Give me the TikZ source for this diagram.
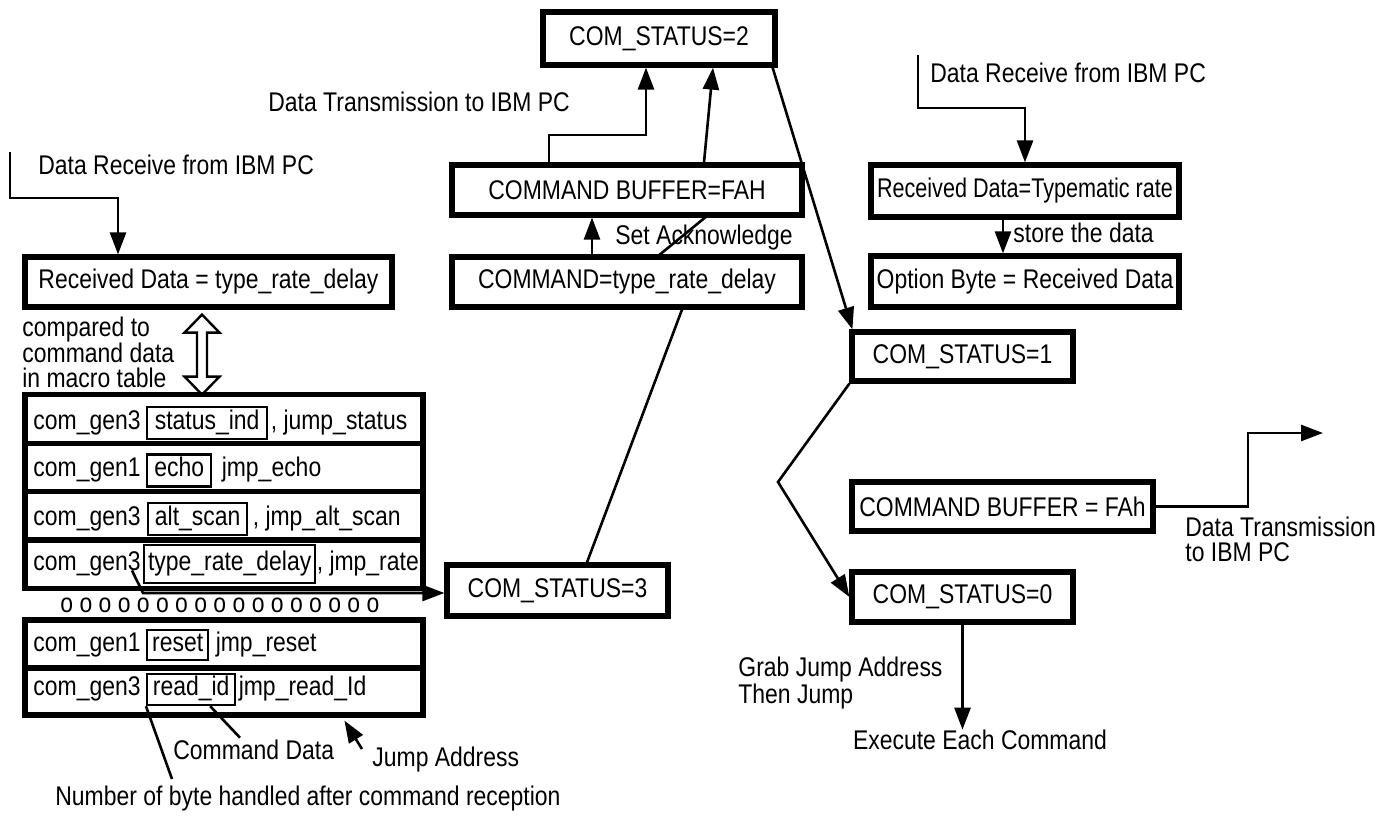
\documentclass[tikz,border=0pt]{standalone}
\usepackage{fontspec}
\setmainfont{Liberation Sans}[FakeStretch=0.85]
\newfontfamily\narrowsans{Liberation Sans}[FakeStretch=0.8]
\usepackage{tikz}
\usetikzlibrary{arrows.meta,positioning,calc,backgrounds}

\tikzset{
  blk/.style={draw,line width=2.6pt,fill=white,inner sep=0pt},
  row/.style={draw,line width=2.6pt,minimum width=199pt,inner sep=0pt},
  kw/.style={draw,line width=1.2pt,inner sep=0pt,minimum height=16pt,text height=9.5pt,text depth=3pt},
  cell/.style={inner sep=0pt,text height=9.5pt,text depth=3pt},
  lbl/.style={inner sep=0pt,anchor=west},
  flow/.style={line width=1.3pt,-{Triangle[length=11pt,width=8pt]}},
  wire/.style={line width=1.3pt}
}

\begin{document}
\begin{tikzpicture}[x=0.5pt,y=-0.5pt,font=\fontsize{13.5}{12.8}\selectfont]
        \path[use as bounding box] (0,0) rectangle (1398,817);

        % state boxes
        \node[blk,minimum width=116pt,minimum height=26.5pt] (cs2) at (659,38.5) {COM\_STATUS=2};
        \node[blk,minimum width=175pt,minimum height=25pt] (bufa) at (627,190) {COMMAND BUFFER=FAH};
        \node[blk,minimum width=175pt,minimum height=25pt] (cmd) at (627,282) {COMMAND=type\_rate\_delay};
        \node[blk,minimum width=183.5pt,minimum height=25pt] (rxl) at (208.5,282) {Received Data = type\_rate\_delay};
        \node[blk,minimum width=154pt,minimum height=26pt] (rxr) at (1025,191) {\narrowsans Received Data=Typematic rate};
        \node[blk,minimum width=154pt,minimum height=25.5pt] (opt) at (1025,281.5) {Option Byte = Received Data};
        \node[blk,minimum width=110.5pt,minimum height=24.5pt] (cs1) at (962.5,356.5) {COM\_STATUS=1};
        \node[blk,minimum width=150.5pt,minimum height=24.5pt] (bufb) at (1002.5,506.5) {COMMAND BUFFER = FAh};
        \node[blk,minimum width=110.5pt,minimum height=25pt] (cs0) at (962.5,597) {COM\_STATUS=0};
        \node[blk,minimum width=110.5pt,minimum height=25.5pt] (cs3) at (557.5,590.5) {COM\_STATUS=3};

        % macro table
        \node[row,minimum height=24.25pt] (r1) at (224,419) {};
        \node[row,minimum height=24.25pt] (r2) at (224,467.5) {};
        \node[row,minimum height=24.25pt] (r3) at (224,516) {};
        \node[row,minimum height=24.25pt] (r4) at (224,564) {};
        \node[row,minimum height=24pt] (r5) at (224,644) {};
        \node[row,minimum height=23.5pt] (r6) at (224,691.5) {};

        \node[cell,anchor=west] (g1) at (33,423) {com\_gen3};
        \node[kw,minimum width=60pt,right=2.5pt of g1] (k1) {status\_ind};
        \node[cell,right=1pt of k1] {, jump\_status};
        \node[cell,anchor=west] (g2) at (33,470.5) {com\_gen1};
        \node[kw,minimum width=32pt,right=2.5pt of g2] (k2) {echo\ };
        \node[cell,right=4.5pt of k2] {jmp\_echo};
        \node[cell,anchor=west] (g3) at (33,519) {com\_gen3};
        \node[kw,minimum width=49.5pt,right=3pt of g3] (k3) {alt\_scan\ };
        \node[cell,right=2pt of k3] {, jmp\_alt\_scan};
        \node[cell,anchor=west] (g4) at (33,564) {com\_gen3};
        \node[kw,minimum width=85.5pt,minimum height=19pt,right=1pt of g4] (k4) {type\_rate\_delay};
        \node[cell,right=0pt of k4] {, jmp\_rate};
        \node[cell,anchor=west] (g5) at (33,645) {com\_gen1};
        \node[kw,minimum width=30.5pt,minimum height=15pt,right=2.5pt of g5] (k5) {reset};
        \node[cell,right=3pt of k5] {jmp\_reset};
        \node[cell,anchor=west] (g6) at (33,689.5) {com\_gen3};
        \node[kw,minimum width=44pt,minimum height=15.5pt,right=2.5pt of g6] (k6) {read\_id};
        \node[cell,right=1pt of k6] {jmp\_read\_Id};

        % labels
        \node[lbl] (dl) at (38,165) {Data Receive from IBM PC};
        \node[lbl] (dt) at (268,102) {Data Transmission to IBM PC};
        \node[lbl] (ack) at (615,238) {Set Acknowledge};
        \node[lbl] (dr) at (930,73) {Data Receive from IBM PC};
        \node[lbl] (store) at (1013,233) {store the data};
        \node[lbl,align=left] (cmp) at (22,352.5) {compared to\\command data\\in macro table};
        \node[lbl] (dots) at (60,605) {o o o o o o o o o o o o o o o o o};
        \node[lbl] (cmdd) at (173,750) {Command Data};
        \node[lbl] (jmpa) at (372,760) {Jump Address};
        \node[lbl] (numb) at (55,799) {Number of byte handled after command reception};
        \node[lbl,align=left] (dt2) at (1185,539.5) {Data Transmission\\to IBM PC};
        \node[lbl,align=left,font=\fontsize{13.5}{13.5}\selectfont] (grab) at (738,683.5) {Grab Jump Address\\Then Jump};
        \node[inner sep=0pt] (exe) at (980,740) {Execute Each Command};

        \coordinate (inl) at (10,152);
        \coordinate (inr) at (918,55);
        \coordinate (outr) at (1323,433);

        % connectors
        \draw[flow] (inl) |- (118,198) -- ([xshift=-45.25pt]rxl.north);
        \draw[flow] (inr) |- (1025,108) -- (rxr.north);
        \draw[flow] ([xshift=-11pt]rxr.south) -- ([xshift=-11pt]opt.north);
        \draw[flow] ([xshift=-17.5pt]cmd.north) -- ([xshift=-17.5pt]bufa.south);
        \draw[flow] ([xshift=-39pt]bufa.north) |- (646,135) -- ([xshift=-6.5pt]cs2.south);
        \draw[flow] ([xshift=-2.5pt]cs2.south east) -- ([xshift=1.5pt]cs1.north west);
        \draw[flow] (cs1.south west) -- (778,482) -- (cs0.west);
        \draw[flow] (bufb.east) -| (1248,433) -- (outr);
        \draw[flow] (cs0.south) -- (cs0.south |- exe.north);
        \draw[flow] ([xshift=-4.5pt]g4.base east) -- (143,593) -- ([yshift=-1.25pt]cs3.west);
        \draw[wire] (k6.south west) -- ([xshift=58.5pt,yshift=3.5pt]numb.north west);
        \draw[wire] ([xshift=9.5pt]k6.south) -- ([xshift=33.5pt,yshift=1pt]cmdd.north west);
        \draw[flow] ([xshift=-5pt,yshift=-1pt]jmpa.north west) -- ([xshift=161pt,yshift=-1.5pt]r6.south west);
        \draw[line width=1.2pt,shift={(rxl.south)}] (-6.5,5) -- (11,23) -- (-1.5,23) -- (-1.5,67) -- (11,67) -- (-6.5,85)
              -- (-24,67) -- (-11.5,67) -- (-11.5,23) -- (-24,23) -- cycle;

        \begin{pgfonlayer}{background}
        \draw[flow] ([xshift=14.75pt]cs3.north) -- ([xshift=27.5pt]cmd.south) -- ([xshift=16.5pt]cmd.north)
              -- ([xshift=39pt]bufa.south) -- ([xshift=38.5pt]bufa.north) -- ([xshift=27pt]cs2.south);
        \end{pgfonlayer}
\end{tikzpicture}
\end{document}
